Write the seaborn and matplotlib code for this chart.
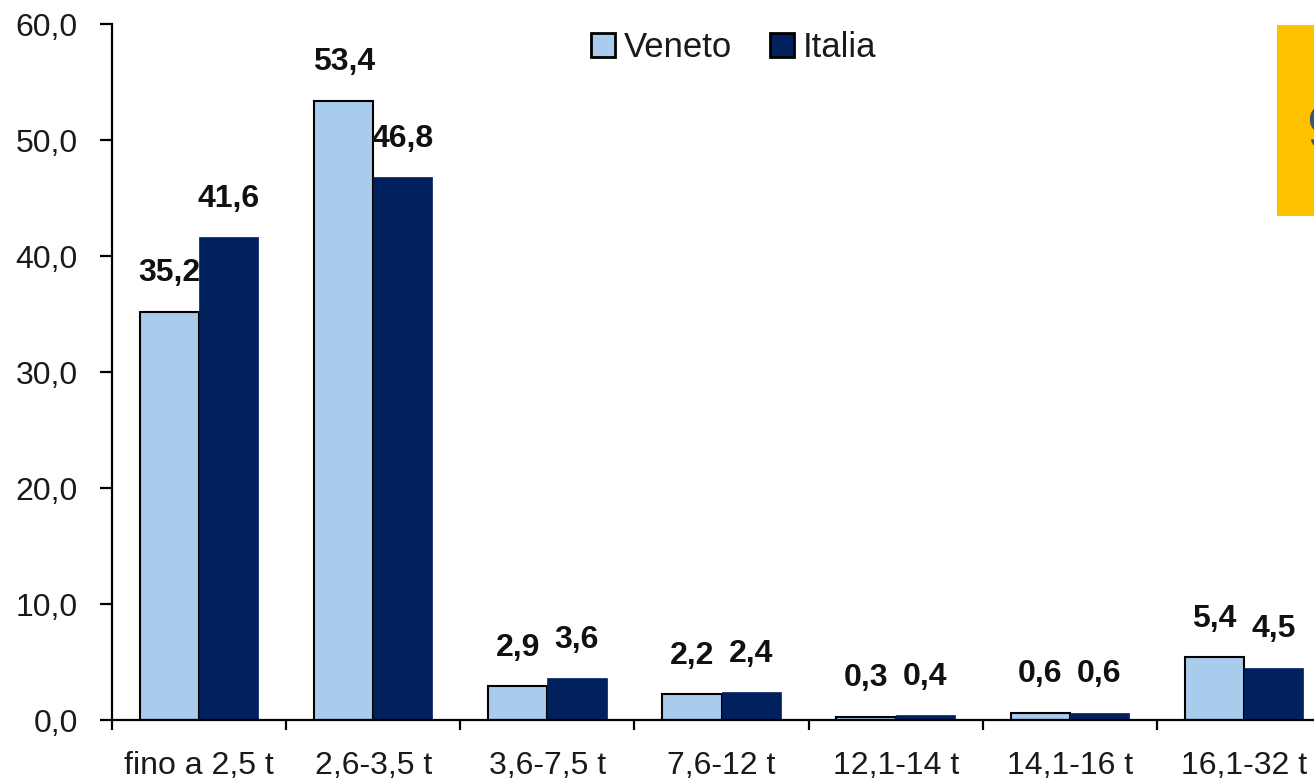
import matplotlib
matplotlib.use("Agg")
import matplotlib.pyplot as plt
import seaborn as sns
import pandas as pd
from matplotlib.patches import Patch, Rectangle
from matplotlib.ticker import FuncFormatter, FixedLocator

categories = ["fino a 2,5 t", "2,6-3,5 t", "3,6-7,5 t", "7,6-12 t",
              "12,1-14 t", "14,1-16 t", "16,1-32 t"]
veneto = [35.2, 53.4, 2.9, 2.2, 0.3, 0.6, 5.4]
italia = [41.6, 46.8, 3.6, 2.4, 0.4, 0.6, 4.5]
series = ["Veneto", "Italia"]
y_ticks = [0, 10, 20, 30, 40, 50, 60]

sns.set_theme(style="ticks")
plt.rcParams["font.family"] = ["Liberation Sans", "DejaVu Sans"]

df = pd.DataFrame({
    "cat": categories * 2,
    "val": veneto + italia,
    "serie": [series[0]] * len(categories) + [series[1]] * len(categories),
})

c_ven = "#A9CBEC"
c_ita = "#00215E"

W, H = 1314, 783
fig = plt.figure(figsize=(W / 100, H / 100), dpi=100)
ax = fig.add_axes([112 / W, 63 / H, 1219 / W, 696 / H])
ax.set_facecolor("none")

sns.barplot(data=df, x="cat", y="val", hue="serie", hue_order=series,
            palette={"Veneto": c_ven, "Italia": c_ita}, saturation=1,
            width=0.68, gap=0, ax=ax, legend=False, errorbar=None)

for bar in ax.containers[0]:
    bar.set_edgecolor("black")
    bar.set_linewidth(1.5)
for bar in ax.containers[1]:
    bar.set_edgecolor(c_ita)
    bar.set_linewidth(0.5)

for cont in ax.containers:
    labels = [f"{b.get_height():.1f}".replace(".", ",") for b in cont]
    ax.bar_label(cont, labels=labels, padding=17, fontsize=23,
                 fontweight="bold", color="#111111")

ax.set_xlim(-0.5, len(categories) - 0.5)
ax.set_ylim(0, 60)
ax.yaxis.set_major_locator(FixedLocator(y_ticks))
ax.yaxis.set_major_formatter(FuncFormatter(lambda v, p: f"{v:.1f}".replace(".", ",")))
ax.set_xlabel("")
ax.set_ylabel("")

sns.despine(ax=ax)
for s in ["left", "bottom"]:
    ax.spines[s].set_color("black")
    ax.spines[s].set_linewidth(1.6)

ax.xaxis.set_minor_locator(FixedLocator([i - 0.5 for i in range(len(categories) + 1)]))
ax.tick_params(axis="y", which="major", left=True, length=8.6, width=1.6,
               color="black", labelsize=23, pad=16, labelcolor="#1a1a1a")
ax.tick_params(axis="x", which="major", bottom=True, length=0, labelsize=23,
               pad=22, labelcolor="#1a1a1a")
ax.tick_params(axis="x", which="minor", bottom=True, length=7.5, width=1.6,
               color="black", direction="out")

handles = [Patch(facecolor=c_ven, edgecolor="black", linewidth=2),
           Patch(facecolor=c_ita, edgecolor="black", linewidth=2)]
ax.legend(handles, series, loc="upper center", bbox_to_anchor=(0.51, 1.035),
          ncol=2, frameon=False, fontsize=25, handlelength=0.7,
          handleheight=0.7, handletextpad=0.25, columnspacing=1.1,
          labelcolor="#1a1a1a")

fig.add_artist(Rectangle((1277 / W, (H - 216) / H), 60 / W, 191 / H,
                         transform=fig.transFigure, facecolor="#FFC000",
                         edgecolor="none", zorder=5))
fig.text(1306 / W, (H - 133) / H, "9", fontsize=44, color="#44546A",
         ha="left", va="center", zorder=6)

fig.savefig("out.png", dpi=100)
